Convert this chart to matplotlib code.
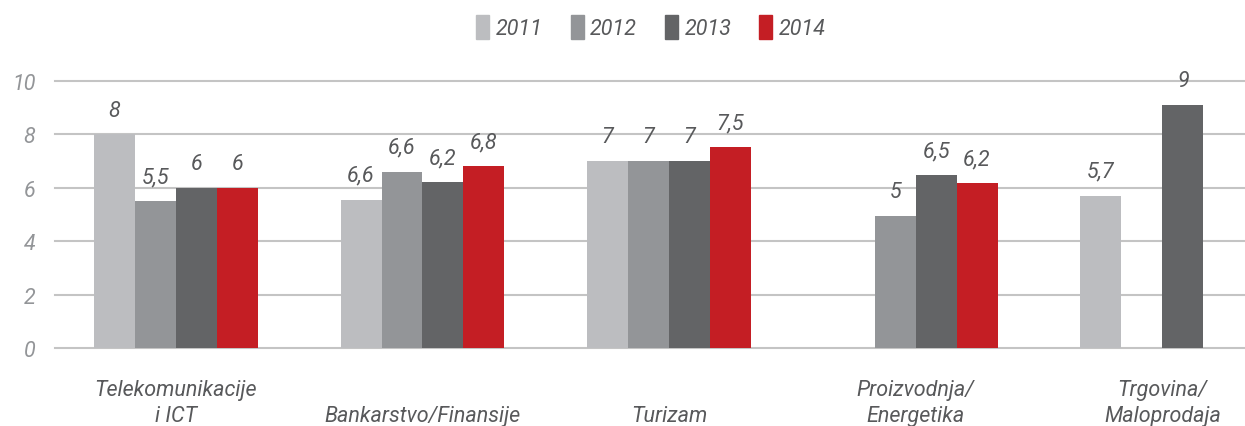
import numpy as np
import matplotlib
matplotlib.use("Agg")
import matplotlib.pyplot as plt
from matplotlib.patches import Patch

# data (nan = no bar)
categories = ["Telekomunikacije\ni ICT", "Bankarstvo/Finansije", "Turizam",
              "Proizvodnja/\nEnergetika", "Trgovina/\nMaloprodaja"]
years = ["2011", "2012", "2013", "2014"]
values_2011 = [8, 5.55, 7, np.nan, 5.7]
values_2012 = [5.5, 6.6, 7, 4.95, np.nan]
values_2013 = [6, 6.22, 7, 6.48, 9.1]
values_2014 = [6, 6.82, 7.53, 6.18, np.nan]
labels_2011 = ["8", "6,6", "7", "", "5,7"]
labels_2012 = ["5,5", "6,6", "7", "5", ""]
labels_2013 = ["6", "6,2", "7", "6,5", "9"]
labels_2014 = ["6", "6,8", "7,5", "6,2", ""]
y_ticks = [0, 2, 4, 6, 8, 10]

series = [values_2011, values_2012, values_2013, values_2014]
series_labels = [labels_2011, labels_2012, labels_2013, labels_2014]
colors = ["#bcbdc0", "#939598", "#636466", "#c41e24"]

plt.rcParams["font.family"] = ["Roboto", "DejaVu Sans"]
plt.rcParams["font.style"] = "italic"

fig = plt.figure(figsize=(12.45, 4.27), dpi=100)
ax = fig.add_axes([55 / 1245, 78 / 427, 1190 / 1245, 267 / 427])

x = np.arange(len(categories))
width = 0.166

for i, (vals, labs) in enumerate(zip(series, series_labels)):
    pos = x + (i - 1.5) * width
    ax.bar(pos, vals, width=width, color=colors[i], zorder=3)
    for px, v, lab in zip(pos, vals, labs):
        if lab and not np.isnan(v):
            ax.annotate(lab, (px, v), xytext=(0, 10), textcoords="offset points",
                        ha="center", va="bottom", fontsize=15.5, color="#58595b")

# category labels, last line aligned across categories
for xi, cat in zip(x, categories):
    lines = cat.split("\n")
    for k, line in enumerate(reversed(lines)):
        ax.text(xi, -0.252 + k * 0.0974, line, transform=ax.get_xaxis_transform(),
                ha="center", va="center", fontsize=15.5, color="#58595b")

ax.set_xlim(-0.49, 4.335)
ax.set_ylim(0, 10)
ax.set_yticks(y_ticks)
ax.set_xticks([])
ax.tick_params(axis="y", length=0, pad=14, labelsize=15.5, labelcolor="#939598")
ax.yaxis.grid(True, color="#c4c4c4", linewidth=1.5, zorder=0)
for gl in ax.get_ygridlines():
    gl.set_clip_on(False)
for s in ax.spines.values():
    s.set_visible(False)

handles = [Patch(color=c, label=y) for c, y in zip(colors, years)]
fig.legend(handles=handles, loc="center", bbox_to_anchor=(651 / 1245, 1 - 28 / 427),
           ncol=4, frameon=False, fontsize=15.5, handlelength=0.6, handleheight=1.4,
           handletextpad=0.3, columnspacing=1.3, labelcolor="#58595b")

fig.savefig("out.png", dpi=100)
